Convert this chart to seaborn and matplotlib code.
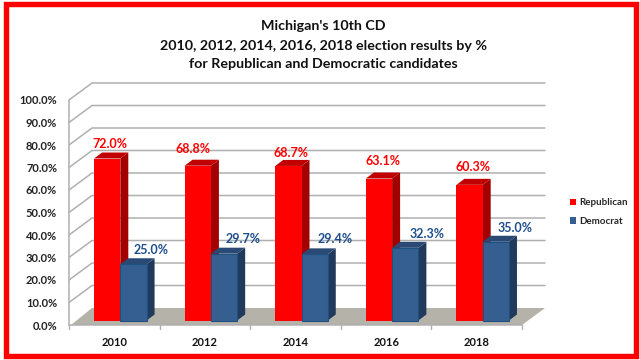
import matplotlib
matplotlib.use("Agg")
import matplotlib.pyplot as plt
import seaborn as sns
import pandas as pd
from matplotlib.patches import Polygon, Rectangle
from matplotlib.lines import Line2D
from matplotlib.transforms import Affine2D, IdentityTransform

years = ["2010", "2012", "2014", "2016", "2018"]
republican = [72.0, 68.8, 68.7, 63.1, 60.3]
democrat = [25.0, 29.7, 29.4, 32.3, 35.0]
title_lines = ["Michigan's 10th CD",
               "2010, 2012, 2014, 2016, 2018 election results by %",
               "for Republican and Democratic candidates"]

# label placement, in pixels from the category centre and value height
rep_nudge = [(-4, 19), (-12, 21), (-4.5, 17.5), (-3, 22), (-3.7, 22)]
dem_nudge = [(36.7, 19), (38, 19), (39.5, 20), (41, 18), (38, 18)]

sns.set_theme(style="white")
plt.rcParams["font.family"] = ["Lato", "DejaVu Sans"]

W, H = 640, 360
fig = plt.figure(figsize=(W / 100, H / 100), dpi=100, facecolor="white")
ax = fig.add_axes([69 / W, 35 / H, 453 / W, 225 / H])

df = pd.DataFrame({
    "year": years * 2,
    "party": ["Republican"] * 5 + ["Democrat"] * 5,
    "share": republican + democrat,
})
palette = {"Republican": "#ff0000", "Democrat": "#355f91"}
sns.barplot(data=df, x="year", y="share", hue="party", order=years,
            hue_order=["Republican", "Democrat"], palette=palette,
            width=0.58, gap=0, saturation=1, legend=False, ax=ax)
ax.set_xlim(-0.5, 4.5)
ax.set_ylim(0, 100)
ax.set_xlabel("")
ax.set_ylabel("")
ax.patch.set_alpha(0)
for s in ax.spines.values():
    s.set_visible(False)

GRID = "#b0b0b0"
BACK = (23, 17)
BAR = (6, 4.5)
DEPTH = (8, 6)
ident = IdentityTransform()

def disp(x, y):
    return ax.transData.transform((x, y))

# floor
p0 = disp(-0.5, 0); p1 = disp(4.5, 0)
floor = Polygon([p0 + (2, 0), p0 + BACK, p1 + BACK, p1], closed=True, transform=ident,
                facecolor="#b5b2aa", edgecolor="none", zorder=0.6, clip_on=False)
ax.add_patch(floor)

# walls: grid lines on the side and back planes
for v in range(10, 101, 10):
    a = disp(-0.5, v); b = a + BACK; c = disp(4.5, v) + BACK
    ax.add_line(Line2D([a[0], b[0], c[0]], [a[1], b[1], c[1]], transform=ident, color=GRID,
                       lw=1.1, zorder=0.5, clip_on=False))

# axis lines and ticks
a = disp(-0.5, 0); t = disp(-0.5, 100)
ax.add_line(Line2D([a[0], t[0]], [a[1], t[1]], transform=ident, color=GRID, lw=1.1, zorder=1, clip_on=False))
ax.add_line(Line2D([a[0], p1[0]], [a[1], p1[1]], transform=ident, color=GRID, lw=1.1, zorder=1, clip_on=False))
for i in range(6):
    q = disp(i - 0.5, 0)
    ax.add_line(Line2D([q[0], q[0]], [q[1], q[1] - 4], transform=ident, color=GRID, lw=1, zorder=1, clip_on=False))

# 3D bars: front faces from seaborn, then side and top faces
shift = Affine2D().translate(*BAR)
n = len(years)
bars = [b for b in ax.patches if isinstance(b, Rectangle) and b.get_height() > 0]
side = {"#ff0000": ("#a30000", "#c00000"), "#355f91": ("#213a5c", "#2a4a75")}
for idx, b in enumerate(bars):
    is_rep = idx < n
    z = 2 if is_rep else 4
    key = "#ff0000" if is_rep else "#355f91"
    x0, x1 = b.get_x(), b.get_x() + b.get_width()
    h = b.get_height()
    b.set_transform(ax.transData + shift)
    b.set_zorder(z + 0.5)
    b.set_clip_on(False)
    if is_rep:
        b.set_edgecolor("none")
        b.set_linewidth(0)
    else:
        b.set_edgecolor("#1f5080")
        b.set_linewidth(0.8)
    bl = disp(x0, 0) + BAR; br = disp(x1, 0) + BAR
    tl = disp(x0, h) + BAR; tr = disp(x1, h) + BAR
    ax.add_patch(Polygon([br, tr, tr + DEPTH, br + DEPTH], closed=True, transform=ident,
                         facecolor=side[key][0], edgecolor="none", zorder=z, clip_on=False))
    ax.add_patch(Polygon([tl, tr, tr + DEPTH, tl + DEPTH], closed=True, transform=ident,
                         facecolor=side[key][1], edgecolor="none", zorder=z, clip_on=False))

# tick labels
ax.set_xticks(range(5))
ax.set_xticklabels(years, fontsize=8, fontweight="bold", color="#111111")
ax.set_yticks(range(0, 101, 10))
ax.set_yticklabels([f"{v}.0%" for v in range(0, 101, 10)], fontsize=8, fontweight="bold", color="#222222")
ax.tick_params(axis="both", length=0)
ax.tick_params(axis="x", pad=8.5)
ax.tick_params(axis="y", pad=8.6)

# data labels
for i, (r, d) in enumerate(zip(republican, democrat)):
    ax.annotate(f"{r:.1f}%", (i, r), xytext=rep_nudge[i], textcoords="offset pixels", ha="center", va="center",
                color="#ff0000", fontsize=9, fontweight="bold", zorder=6, annotation_clip=False)
    ax.annotate(f"{d:.1f}%", (i, d), xytext=dem_nudge[i], textcoords="offset pixels", ha="center", va="center",
                color="#1f4e8c", fontsize=9, fontweight="bold", zorder=6, annotation_clip=False)

# title
for line, y in zip(title_lines, [26, 46, 64]):
    fig.text(323 / W, 1 - y / H, line, ha="center", va="center", fontsize=10.25,
             fontweight="bold", color="#111111")

# legend
handles = [Rectangle((0, 0), 1, 1, facecolor=palette[k], edgecolor="none") for k in ["Republican", "Democrat"]]
leg = fig.legend(handles, ["Republican", "Democrat"], loc="center left", bbox_to_anchor=(569.5 / W, 1 - 212 / H),
                 frameon=False, handlelength=0.7, handleheight=0.7, handletextpad=0.3,
                 labelspacing=0.95, borderpad=0, borderaxespad=0, prop={"size": 7, "weight": "bold"})

# red frame
fig.add_artist(Rectangle((5.5 / W, 1 - 355.5 / H), 630 / W, 352 / H, transform=fig.transFigure,
                         facecolor="none", edgecolor="#ff0000", lw=3.9))

fig.savefig("out.png", dpi=100, facecolor="white")
